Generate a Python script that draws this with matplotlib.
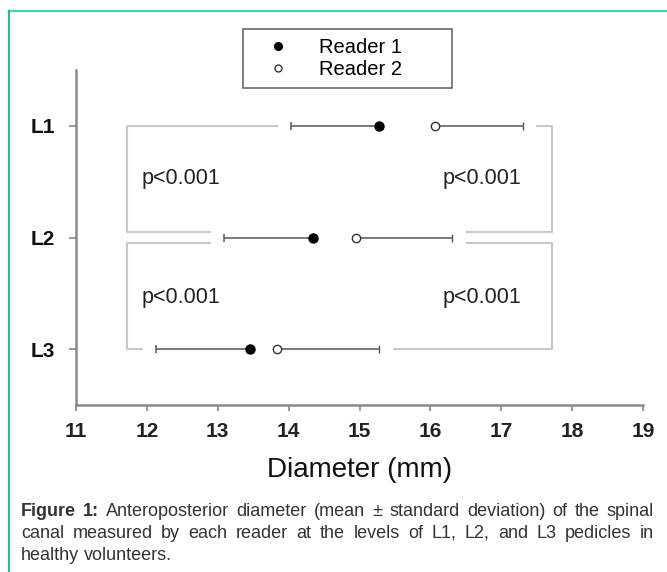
import matplotlib
matplotlib.use("Agg")
import matplotlib.pyplot as plt
from matplotlib.lines import Line2D

plt.rcParams["font.family"] = ["Liberation Sans", "DejaVu Sans"]

# data
levels = ["L1", "L2", "L3"]
level_pos = [1, 2, 3]
r1_mean = [15.27, 14.35, 13.46]
r1_sd = [1.23, 1.26, 1.33]
r2_mean = [16.07, 14.95, 13.84]
r2_sd = [1.23, 1.36, 1.44]
p_labels = ["p<0.001", "p<0.001", "p<0.001", "p<0.001"]
x_ticks = [11, 12, 13, 14, 15, 16, 17, 18, 19]

caption_lines = [
    "Figure 1: Anteroposterior diameter (mean ± standard deviation) of the spinal",
    "canal measured by each reader at the levels of L1, L2, and L3 pedicles in",
    "healthy volunteers.",
]

W, H = 667, 572
fig = plt.figure(figsize=(W / 100, H / 100), dpi=100)
ax = fig.add_axes([76 / W, 1 - 405 / H, (643 - 76) / W, (405 - 70) / H])

err_col = "#555555"
# Reader 1: error bar to the left only, Reader 2: to the right only
ax.errorbar(r1_mean, level_pos, xerr=[r1_sd, [0] * 3], fmt="o", color="black",
            ms=6.5, ecolor=err_col, elinewidth=1.1, capsize=3, capthick=1.1,
            zorder=3)
ax.errorbar(r2_mean, level_pos, xerr=[[0] * 3, r2_sd], fmt="o", mfc="white",
            mec="#333333", mew=1.0, ms=6, ecolor=err_col, elinewidth=1.1,
            capsize=3, capthick=1.1, zorder=3)

# significance brackets
br_col = "#c8c8c8"
gap = 0.2
left_x, right_x = 11.72, 17.71
for i in range(2):
    ya, yb = level_pos[i], level_pos[i + 1]
    y_top, y_bot = ya, yb
    if i == 0:
        y_bot = yb - 0.05
    else:
        y_top = ya + 0.05
    la = r1_mean[i] - r1_sd[i] - gap
    lb = r1_mean[i + 1] - r1_sd[i + 1] - gap
    ax.plot([la, left_x, left_x, lb], [y_top, y_top, y_bot, y_bot],
            color=br_col, lw=1.5, zorder=1)
    ra = r2_mean[i] + r2_sd[i] + gap
    rb = r2_mean[i + 1] + r2_sd[i + 1] + gap
    ax.plot([ra, right_x, right_x, rb], [y_top, y_top, y_bot, y_bot],
            color=br_col, lw=1.5, zorder=1)

p_pos = [(11.93, 1.47), (11.93, 2.54), (16.17, 1.47), (16.17, 2.54)]
for (px, py), lab in zip(p_pos, p_labels):
    ax.text(px, py, lab, fontsize=15.5, ha="left", va="center", color="#222222")

ax.set_xlim(11, 19)
ax.set_ylim(3.5, 0.5)
ax.set_xticks(x_ticks)
ax.set_xticklabels([str(t) for t in x_ticks], fontsize=15, fontweight="bold",
                   color="#222222")
ax.set_yticks(level_pos)
ax.set_yticklabels(levels, fontsize=15, fontweight="bold", color="#111111")
ax.tick_params(axis="x", length=4, width=1.2, color="#888888", pad=8)
ax.tick_params(axis="y", length=5, width=1.2, color="#888888", pad=10)
for s in ["top", "right"]:
    ax.spines[s].set_visible(False)
for s in ["left", "bottom"]:
    ax.spines[s].set_color("#8a8a8a")
    ax.spines[s].set_linewidth(1.8)
ax.set_xlabel("Diameter (mm)", fontsize=20, labelpad=12, color="#111111")

handles = [
    Line2D([], [], ls="none", marker="o", ms=5.5, color="black"),
    Line2D([], [], ls="none", marker="o", ms=5, mfc="white", mec="#333333", mew=1.0),
]
leg = ax.legend(handles, ["Reader 1", "Reader 2"], loc="upper left",
                bbox_to_anchor=(243 / W, 1 - 92 / H, 209 / W, 63 / H),
                bbox_transform=fig.transFigure, mode="expand", fontsize=14.5,
                frameon=True, fancybox=False, edgecolor="#444444",
                borderpad=0.45, labelspacing=0.15, handletextpad=0.7,
                handlelength=2.6, borderaxespad=0)
leg.get_frame().set_linewidth(1.2)

# teal frame
fig.add_artist(Line2D([9 / W, 1], [1 - 11 / H, 1 - 11 / H], color="#45d0b8", lw=1.6))
fig.add_artist(Line2D([9 / W, 9 / W], [0, 1 - 11 / H], color="#2fb59e", lw=1.6))

# justified caption
renderer = fig.canvas.get_renderer()
x0, x1 = 21, 654
line_y = [511, 533, 556]
cap_size = 13


def make_words(size):
    out = []
    for li, line in enumerate(caption_lines):
        row = []
        for wi, w in enumerate(line.split(" ")):
            bold = li == 0 and wi < 2
            row.append(fig.text(0, 1 - line_y[li] / H, w, fontsize=size,
                                va="center", ha="left", color="#333333",
                                fontweight="bold" if bold else "normal"))
        out.append(row)
    return out


rows = make_words(cap_size)
space = cap_size * 0.278 * 100 / 72
natural = max(sum(t.get_window_extent(renderer).width for t in r) + space * (len(r) - 1)
              for r in rows[:-1])
if natural > x1 - x0:
    for r in rows:
        for t in r:
            t.remove()
    cap_size = cap_size * (x1 - x0) / natural * 0.98
    space = cap_size * 0.278 * 100 / 72
    rows = make_words(cap_size)

for li, items in enumerate(rows):
    widths = [t.get_window_extent(renderer).width for t in items]
    if li < len(rows) - 1:
        sp = (x1 - x0 - sum(widths)) / (len(items) - 1)
    else:
        sp = space
    x = x0
    for t, w in zip(items, widths):
        t.set_x(x / W)
        x += w + sp

fig.savefig("out.png", dpi=100)
